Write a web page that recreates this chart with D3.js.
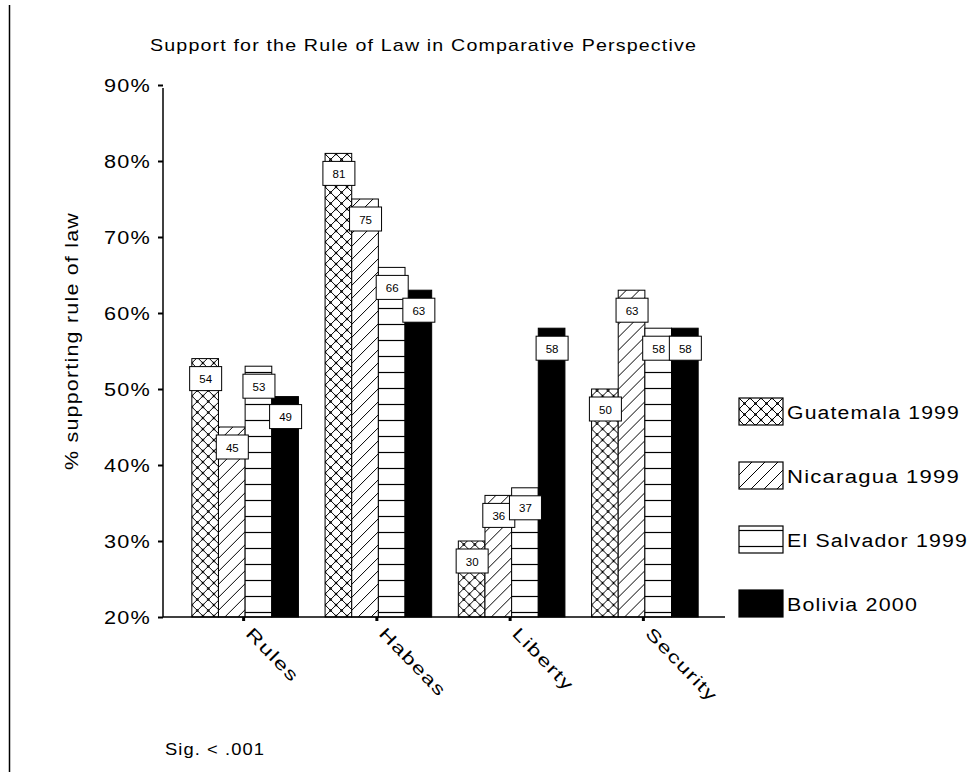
<!DOCTYPE html>
<html>
<head>
<meta charset="utf-8">
<script src="https://cdn.jsdelivr.net/npm/d3@7/dist/d3.min.js"></script>
<style>
  html, body { margin: 0; padding: 0; background: #fff; }
  svg { display: block; }
  text { font-family: Arial, "Liberation Sans", sans-serif; fill: #000; letter-spacing: 1px; }
</style>
</head>
<body>
<svg id="chart" width="972" height="778"></svg>
<script>
const categories = ["Rules", "Habeas", "Liberty", "Security"];
const seriesNames = ["Guatemala 1999", "Nicaragua 1999", "El Salvador 1999", "Bolivia 2000"];
const guatemala = [54, 81, 30, 50];
const nicaragua = [45, 75, 36, 63];
const elSalvador = [53, 66, 37, 58];
const bolivia = [49, 63, 58, 58];
const yTickValues = [20, 30, 40, 50, 60, 70, 80, 90];
const yTickLabels = ["20%", "30%", "40%", "50%", "60%", "70%", "80%", "90%"];
const titleText = "Support for the Rule of Law in Comparative Perspective";
const yAxisTitle = "% supporting rule of law";
const noteText = "Sig. < .001";

const seriesValues = [guatemala, nicaragua, elSalvador, bolivia];
const fills = ["url(#pGuat)", "url(#pNic)", "url(#pSal)", "#000"];

const svg = d3.select("#chart");

// patterns
const defs = svg.append("defs");
const pg = defs.append("pattern").attr("id", "pGuat").attr("patternUnits", "userSpaceOnUse")
  .attr("width", 11).attr("height", 11);
pg.append("rect").attr("width", 11).attr("height", 11).attr("fill", "#fff");
pg.append("path").attr("d", "M0,0L11,11M11,0L0,11").attr("stroke", "#000").attr("stroke-width", 1);
[[0,0],[11,0],[0,11],[11,11],[5.5,5.5]].forEach(p => pg.append("rect")
  .attr("x", p[0]-1.2).attr("y", p[1]-1.2).attr("width", 2.4).attr("height", 2.4).attr("fill", "#000"));

const pn = defs.append("pattern").attr("id", "pNic").attr("patternUnits", "userSpaceOnUse")
  .attr("width", 13).attr("height", 13);
pn.append("rect").attr("width", 13).attr("height", 13).attr("fill", "#fff");
pn.append("path").attr("d", "M0,13L13,0M-3,3L3,-3M10,16L16,10").attr("stroke", "#000").attr("stroke-width", 1);

const ps = defs.append("pattern").attr("id", "pSal").attr("patternUnits", "userSpaceOnUse")
  .attr("width", 16).attr("height", 16);
ps.append("rect").attr("width", 16).attr("height", 16).attr("fill", "#fff");
ps.append("path").attr("d", "M0,4.5H16").attr("stroke", "#000").attr("stroke-width", 1.2);

// frame line at left
svg.append("line").attr("x1", 9.5).attr("x2", 9.5).attr("y1", 5).attr("y2", 772)
  .attr("stroke", "#000").attr("stroke-width", 1.5);

// scales
const y = d3.scaleLinear().domain([20, 90]).range([617, 85]);
const x0 = d3.scaleBand().domain(categories).range([178.5, 711.5]).paddingInner(0.2).paddingOuter(0.1);
const x1 = d3.scaleBand().domain(seriesNames).range([0, x0.bandwidth()]);

// title
svg.append("text").attr("x", 150).attr("y", 51).attr("font-size", 17)
  .attr("textLength", 547).attr("lengthAdjust", "spacingAndGlyphs").text(titleText);

// bars
const groups = svg.append("g").selectAll("g").data(categories).join("g")
  .attr("transform", d => `translate(${x0(d)},0)`);

groups.each(function(cat, ci) {
  const g = d3.select(this);
  seriesNames.forEach((s, si) => {
    const v = seriesValues[si][ci];
    g.append("rect")
      .attr("x", x1(s)).attr("y", y(v))
      .attr("width", x1.bandwidth()).attr("height", y(20) - y(v))
      .attr("fill", fills[si]).attr("stroke", "#000").attr("stroke-width", 1);
  });
  seriesNames.forEach((s, si) => {
    const v = seriesValues[si][ci];
    const cx = x1(s) + x1.bandwidth() / 2 + 0.5;
    const cy = y(v) + 20;
    g.append("rect").attr("x", cx - 16).attr("y", cy - 12).attr("width", 32).attr("height", 24)
      .attr("fill", "#fff").attr("stroke", "#000").attr("stroke-width", 1);
    g.append("text").attr("x", cx).attr("y", cy + 4.5).attr("text-anchor", "middle")
      .attr("font-size", 11.5).style("letter-spacing", "0px").text(v);
  });
});

// y axis
const yAxis = d3.axisLeft(y).tickValues(yTickValues).tickSize(5).tickPadding(7)
  .tickFormat((d, i) => yTickLabels[i]);
const gy = svg.append("g").attr("transform", "translate(163,0)").call(yAxis);
gy.select(".domain").remove();
gy.selectAll(".tick line").attr("stroke", "#000").attr("stroke-width", 2);
gy.selectAll(".tick text").attr("font-size", 18).attr("font-family", "Arial, 'Liberation Sans', sans-serif")
  .attr("textLength", 47).attr("lengthAdjust", "spacingAndGlyphs").attr("dy", "0.36em");
svg.append("line").attr("x1", 163).attr("x2", 163).attr("y1", 88).attr("y2", 617)
  .attr("stroke", "#000").attr("stroke-width", 1.5);

// x axis
svg.append("line").attr("x1", 163).attr("x2", 725).attr("y1", 617).attr("y2", 617)
  .attr("stroke", "#000").attr("stroke-width", 1.5);
const xLabelLen = { "Rules": 68, "Habeas": 88, "Liberty": 80, "Security": 95 };
const gx = svg.append("g");
categories.forEach(c => {
  const cx = x0(c) + x0.bandwidth() / 2 - 1.5;
  gx.append("rect").attr("x", cx - 1.5).attr("y", 617).attr("width", 3).attr("height", 4).attr("fill", "#000");
  gx.append("text").attr("transform", `translate(${cx + 10},626) rotate(46)`)
    .attr("dy", "0.72em").attr("font-size", 17)
    .attr("textLength", xLabelLen[c]).attr("lengthAdjust", "spacingAndGlyphs").text(c);
});

// y axis title
svg.append("text").attr("transform", "translate(78,341) rotate(-90)").attr("text-anchor", "middle")
  .attr("font-size", 18).attr("textLength", 258).attr("lengthAdjust", "spacingAndGlyphs").text(yAxisTitle);

// legend
const legendLen = [173, 173, 181, 131];
const legend = svg.append("g").selectAll("g").data(seriesNames).join("g")
  .attr("transform", (d, i) => `translate(739,${398 + i * 64})`);
legend.append("rect").attr("width", 44).attr("height", 27)
  .attr("fill", (d, i) => fills[i]).attr("stroke", "#000").attr("stroke-width", 1.2);
legend.append("text").attr("x", 48).attr("y", 21).attr("font-size", 18)
  .attr("textLength", (d, i) => legendLen[i]).attr("lengthAdjust", "spacingAndGlyphs").text(d => d);

// note
svg.append("text").attr("x", 165).attr("y", 755).attr("font-size", 17)
  .attr("textLength", 100).attr("lengthAdjust", "spacingAndGlyphs").text(noteText);
</script>
</body>
</html>
